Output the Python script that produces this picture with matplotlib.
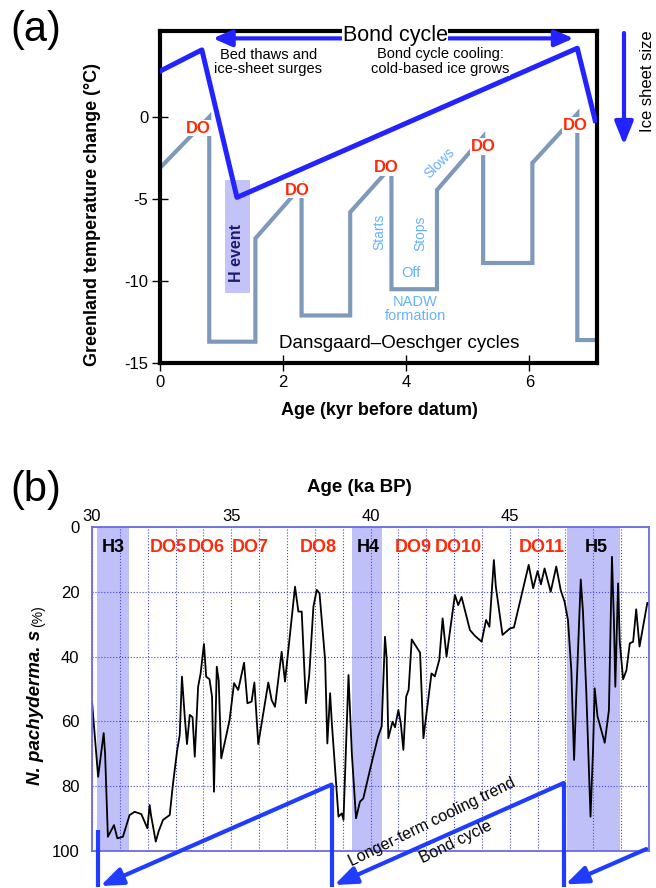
import numpy as np
import matplotlib.pyplot as plt
from matplotlib.patches import Rectangle

plt.rcParams["font.family"] = ["Liberation Sans", "DejaVu Sans"]
plt.rcParams["axes.unicode_minus"] = False

# ---------------- panel (a): schematic DO / Bond cycles ----------------
do_age = [0, 0.8, 0.8, 1.55, 1.55, 2.3, 2.3, 3.09, 3.09, 3.76, 3.76, 4.5, 4.5,
          5.25, 5.25, 6.05, 6.05, 6.78, 6.78, 7.1]
do_temp = [-3.1, 0.0, -13.7, -13.7, -7.4, -4.2, -12.1, -12.1, -5.8, -3.0, -10.5,
           -10.5, -4.45, -1.2, -8.9, -8.9, -2.8, 0.2, -13.6, -13.6]
bond_age = [0, 0.68, 1.25, 6.78, 7.07]
bond_temp = [2.8, 4.1, -4.9, 4.2, -0.2]
do_label_age = [0.63, 2.23, 3.67, 5.25, 6.75]
do_label_temp = [-0.67, -4.45, -3.1, -1.8, -0.5]
h_event_age = [1.06, 1.46]
h_event_temp = [-10.7, -3.85]

# ---------------- panel (b): N. pachyderma s record ----------------
age_b = [30.0, 30.22, 30.42, 30.47, 30.57, 30.79, 30.91, 31.11, 31.35, 31.53,
         31.77, 31.99, 32.07, 32.12, 32.29, 32.39, 32.55, 32.79, 32.91, 33.06,
         33.15, 33.23, 33.33, 33.41, 33.51, 33.61, 33.69, 33.81, 33.90, 34.02,
         34.10, 34.22, 34.31, 34.38, 34.48, 34.55, 34.64, 34.78, 34.94, 35.10,
         35.25, 35.46, 35.58, 35.73, 35.83, 35.97, 36.15, 36.33, 36.45, 36.57,
         36.81, 36.93, 37.29, 37.41, 37.53, 37.68, 37.80, 37.95, 38.07, 38.17,
         38.37, 38.45, 38.55, 38.61, 38.85, 38.97, 39.03, 39.21, 39.33, 39.48,
         39.62, 39.74, 39.98, 40.27, 40.40, 40.52, 40.58, 40.64, 40.79, 40.88,
         41.00, 41.09, 41.18, 41.28, 41.37, 41.48, 41.78, 41.90, 42.19, 42.31,
         42.47, 42.59, 42.73, 43.03, 43.15, 43.27, 43.57, 43.75, 43.99, 44.15,
         44.27, 44.43, 44.50, 44.74, 45.01, 45.15, 45.48, 45.68, 45.84, 46.00,
         46.12, 46.25, 46.47, 46.67, 46.83, 46.97, 47.09, 47.21, 47.31, 47.39,
         47.55, 47.63, 47.75, 47.90, 47.99, 48.05, 48.15, 48.41, 48.56, 48.67,
         48.74, 48.79, 48.89, 48.95, 49.07, 49.19, 49.31, 49.43, 49.54, 49.66,
         49.94, 50.0]
pct_b = [53.9, 77.1, 63.6, 70.0, 95.6, 92.0, 96.1, 95.6, 88.9, 87.9,
         88.6, 93.0, 85.8, 89.0, 97.1, 94.0, 90.4, 88.9, 79.1, 68.8,
         64.2, 46.2, 58.5, 67.0, 58.0, 58.7, 70.9, 49.3, 45.2, 36.1,
         46.2, 47.0, 52.4, 81.7, 43.1, 47.4, 71.4, 66.0, 59.6, 48.2,
         50.3, 41.9, 54.4, 53.9, 48.0, 67.0, 57.5, 48.0, 53.4, 55.5,
         38.5, 47.7, 18.4, 26.1, 26.1, 54.4, 45.7, 24.6, 19.4, 20.5,
         41.0, 66.8, 51.3, 60.3, 89.4, 88.4, 90.4, 45.7, 69.9, 89.9,
         84.8, 83.8, 75.0, 64.7, 61.6, 33.9, 40.5, 65.2, 60.1, 61.8,
         56.5, 60.7, 68.8, 52.4, 50.2, 34.7, 38.8, 65.2, 45.2, 46.1,
         41.0, 28.2, 40.0, 21.0, 24.1, 21.6, 31.8, 33.6, 35.4, 28.7,
         30.8, 10.2, 18.4, 33.3, 31.3, 31.0, 18.9, 11.7, 18.9, 13.6,
         17.7, 12.8, 20.0, 12.2, 19.5, 23.1, 28.7, 44.1, 71.9, 51.6,
         16.2, 26.3, 51.3, 89.4, 68.7, 49.8, 58.4, 66.6, 56.6, 9.2,
         28.7, 49.3, 17.4, 35.4, 47.0, 44.2, 35.9, 35.4, 25.4, 36.9,
         23.4, 24.0]
h_names = ["H3", "H4", "H5"]
h_start = [30.18, 39.35, 47.05]
h_end = [31.34, 40.43, 48.96]
h_label_age = [30.76, 39.93, 48.1]
do_names = ["DO5", "DO6", "DO7", "DO8", "DO9", "DO10", "DO11"]
do_b_label_age = [32.72, 34.12, 35.7, 38.13, 41.55, 43.17, 46.15]
# Bond-cycle sawtooth below panel (b)
saw_age = [30.22, 38.62, 46.94]
saw_top = [93.5, 79.5, 79.0]
saw_bottom = 111
arrow_start = [(38.6, 79.5), (46.94, 79.0), (49.9, 99.4)]
arrow_end = [(30.3, 110.8), (38.7, 110.5), (47.0, 110.3)]

W, H = 656, 888


def fpx(x, y):
    # figure pixel (from top-left) -> figure fraction
    return x / W, 1 - y / H


fig = plt.figure(figsize=(W / 100, H / 100), dpi=100)
ax1 = fig.add_axes([160 / W, 1 - 363 / H, 437 / W, 332 / H])
ax2 = fig.add_axes([92 / W, 1 - 851 / H, 557 / W, 324 / H])

red = "#ff2a0a"
light_blue = "#66b2ff"
blue_a = "#2323ff"
head_a = "-|>,head_length=0.8,head_width=0.35"

# ---------- panel (a) ----------
ax1.add_patch(Rectangle((h_event_age[0], h_event_temp[0]),
                        h_event_age[1] - h_event_age[0],
                        h_event_temp[1] - h_event_temp[0],
                        facecolor="#c3c3f7", edgecolor="none", zorder=1))
ax1.plot(do_age, do_temp, color="#7f99bb", lw=3, zorder=2,
         solid_joinstyle="miter")
ax1.plot(bond_age, bond_temp, color=blue_a, lw=3.6, zorder=3)

for xa, ya in zip(do_label_age, do_label_temp):
    ax1.text(xa, ya, "DO", color=red, fontsize=12, fontweight="bold",
             ha="center", va="center", zorder=4,
             bbox=dict(facecolor="white", edgecolor="none", pad=0.5))

ax1.text(1.25, -8.3, "H event", rotation=90, color="#1b1b70", fontsize=11.5,
         fontweight="bold", ha="center", va="center", zorder=4)

ax1.text(3.82, 5.0, "Bond cycle", fontsize=15.5, ha="center", va="center",
         clip_on=False, zorder=6,
         bbox=dict(facecolor="white", edgecolor="none", pad=0.2))
ax1.annotate("", xy=(0.86, 4.8), xytext=(2.96, 4.8), annotation_clip=False,
             arrowprops=dict(arrowstyle=head_a, color=blue_a, lw=3,
                             mutation_scale=14, shrinkA=0, shrinkB=0), zorder=5)
ax1.annotate("", xy=(6.72, 4.8), xytext=(4.68, 4.8), annotation_clip=False,
             arrowprops=dict(arrowstyle=head_a, color=blue_a, lw=3,
                             mutation_scale=14, shrinkA=0, shrinkB=0), zorder=5)

ax1.text(1.76, 3.35, "Bed thaws and\nice-sheet surges", fontsize=10.5,
         ha="center", va="center", linespacing=1.05, zorder=4)
ax1.text(4.55, 3.4, "Bond cycle cooling:\ncold-based ice grows", fontsize=10.5,
         ha="center", va="center", linespacing=1.05, zorder=4,
         bbox=dict(facecolor="white", edgecolor="none", pad=0.5))
ax1.text(3.89, -13.8, "Dansgaard\u2013Oeschger cycles", fontsize=13.5,
         ha="center", va="center", zorder=4)

ax1.text(3.56, -7.0, "Starts", rotation=90, color=light_blue, fontsize=10,
         ha="center", va="center")
ax1.text(4.23, -7.1, "Stops", rotation=90, color=light_blue, fontsize=10,
         ha="center", va="center")
ax1.text(4.08, -9.5, "Off", color=light_blue, fontsize=10.5,
         ha="center", va="center")
ax1.text(4.15, -11.7, "NADW\nformation", color=light_blue, fontsize=10.5,
         ha="center", va="center", linespacing=1.0)
ax1.text(4.54, -2.8, "Slows", rotation=45, color=light_blue, fontsize=10,
         ha="center", va="center")

ax1.set_xlim(0, 7.1)
ax1.set_ylim(-15, 5.25)
ax1.set_xticks([0, 2, 4, 6])
ax1.set_yticks([0, -5, -10, -15])
ax1.tick_params(direction="inout", length=11, width=1, labelsize=12, pad=3)
for sp in ax1.spines.values():
    sp.set_linewidth(3)
    sp.set_color("black")

fig.text(*fpx(93, 215), "Greenland temperature change (\u00b0C)", rotation=90,
         fontsize=13, fontweight="bold", ha="center", va="center")
fig.text(*fpx(379, 410), "Age (kyr before datum)", fontsize=13,
         fontweight="bold", ha="center", va="center")
fig.text(*fpx(36, 30), "(a)", fontsize=30, ha="center", va="center")

# ice sheet size arrow and label
fig.text(*fpx(648, 81), "Ice sheet size", rotation=90, fontsize=12,
         ha="center", va="center")
ax1.annotate("", xy=fpx(624, 145), xytext=fpx(624, 33),
             xycoords="figure fraction", textcoords="figure fraction",
             arrowprops=dict(arrowstyle="-|>,head_length=1.0,head_width=0.4",
                             color=blue_a, lw=3, mutation_scale=14,
                             shrinkA=0, shrinkB=0))

# ---------- panel (b) ----------
for a0, a1 in zip(h_start, h_end):
    ax2.axvspan(a0, a1, facecolor="#c0c0f8", edgecolor="none", zorder=0.3)
ax2.plot(age_b, pct_b, color="black", lw=1.3, zorder=2)

for name, xa in zip(h_names, h_label_age):
    ax2.text(xa, 6.2, name, fontsize=13, fontweight="bold", color="black",
             ha="center", va="center", zorder=3)
for name, xa in zip(do_names, do_b_label_age):
    ax2.text(xa, 6.2, name, fontsize=13, fontweight="bold", color=red,
             ha="center", va="center", zorder=3)

blue_b = "#1f3cff"
for xa, top in zip(saw_age, saw_top):
    ax2.plot([xa, xa], [top, saw_bottom], color=blue_b, lw=3, clip_on=False,
             zorder=4, solid_capstyle="butt")
for st, en in zip(arrow_start, arrow_end):
    ax2.annotate("", xy=en, xytext=st, annotation_clip=False,
                 arrowprops=dict(arrowstyle="-|>,head_length=0.9,head_width=0.35",
                                 color=blue_b, lw=3, mutation_scale=15,
                                 shrinkA=0, shrinkB=0), zorder=4)
ax2.text(42.2, 91.0, "Longer-term cooling trend", rotation=26, fontsize=11.5,
         ha="center", va="center", clip_on=False, zorder=5)
ax2.text(43.05, 97.4, "Bond cycle", rotation=26, fontsize=11.5,
         ha="center", va="center", clip_on=False, zorder=5)

ax2.set_xlim(30, 50)
ax2.set_ylim(100, 0)
ax2.xaxis.tick_top()
ax2.set_xticks([30, 35, 40, 45])
ax2.set_xticks(np.arange(30, 51, 1), minor=True)
ax2.set_yticks([0, 20, 40, 60, 80, 100])
ax2.tick_params(which="both", length=0, labelsize=12)
ax2.tick_params(axis="x", pad=2)
ax2.tick_params(axis="y", pad=9)
ax2.set_axisbelow(True)
ax2.grid(True, which="both", color="#4646dc", linestyle=":", lw=0.8)
for sp in ax2.spines.values():
    sp.set_linewidth(1.3)
    sp.set_color("#6b6bdf")

fig.text(*fpx(359, 487), "Age (ka BP)", fontsize=13.5, fontweight="bold",
         ha="center", va="center")
fig.text(*fpx(36, 490), "(b)", fontsize=30, ha="center", va="center")

ylab = fig.text(*fpx(36, 785), "N. pachyderma. s", rotation=90, fontsize=13.5,
                fontweight="bold", style="italic", ha="center", va="bottom")
fig.canvas.draw()
bb = ylab.get_window_extent()
fig.text(38 / W, (bb.y1 + 3) / H, "(%)", rotation=90, fontsize=10,
         ha="center", va="bottom")

fig.savefig("out.png", dpi=100)
